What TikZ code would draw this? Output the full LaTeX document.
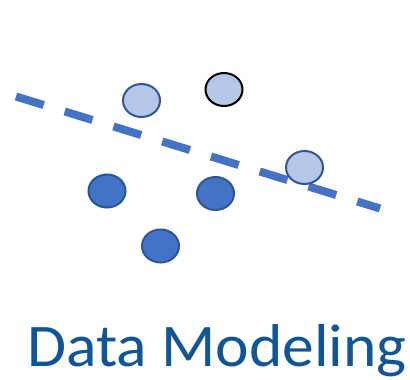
\documentclass[tikz,border=0pt]{standalone}
\usepackage{fontspec}
\setmainfont{Carlito}
\usetikzlibrary{shapes.geometric}
\definecolor{lightdot}{HTML}{B4C7E7}
\definecolor{darkdot}{HTML}{4472C4}
\definecolor{rimblue}{HTML}{2F5597}
\definecolor{rimteal}{HTML}{1F5A96}
\definecolor{titleblue}{HTML}{105597}
\begin{document}
\begin{tikzpicture}[x=1pt,y=-1pt,
  dot/.style={ellipse,minimum width=37pt,minimum height=33pt,inner sep=0pt,line width=2pt},
  lightpt/.style={dot,fill=lightdot,draw=rimblue},
  darkpt/.style={dot,fill=darkdot,draw=rimblue},
  divider/.style={draw=darkdot,line width=8pt,dash pattern=on 29pt off 22pt}]
\useasboundingbox (0,0) rectangle (410,380);
\coordinate (lstart) at (16,96.5);
\coordinate (lend) at (380,208.5);
\draw[divider] (lstart) -- (lend);
\node[lightpt] (a) at (141.5,100.5) {};
\node[lightpt,draw=black] (b) at (224,89.5) {};
\node[lightpt] (c) at (304.5,167.5) {};
\node[darkpt,draw=rimteal] (d) at (107,191) {};
\node[darkpt] (e) at (215.5,193.5) {};
\node[darkpt] (f) at (160.5,246) {};
\node[anchor=base west,inner sep=0pt,text=titleblue,xscale=1.05,font=\fontsize{60.5}{60.5}\selectfont] (title) at (27,366.5) {Data Modeling};
\end{tikzpicture}
\end{document}
